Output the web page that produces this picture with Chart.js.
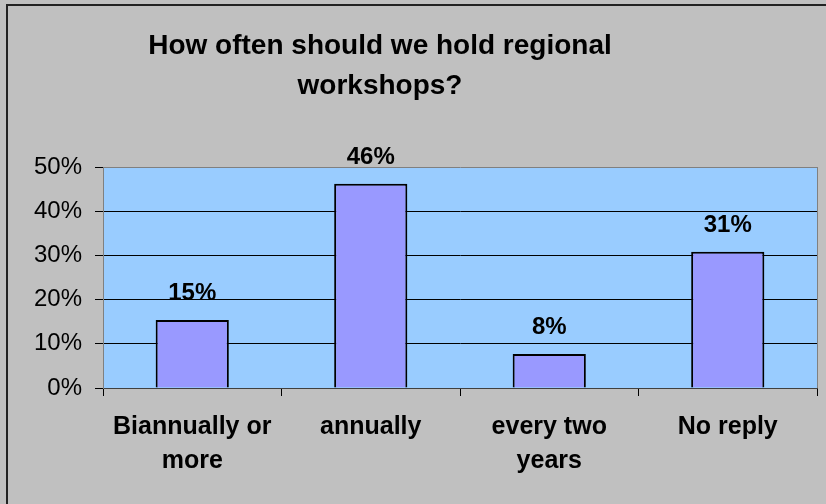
<!DOCTYPE html>
<html>
<head>
<meta charset="utf-8">
<script src="https://cdn.jsdelivr.net/npm/chart.js@4/dist/chart.umd.min.js"></script>
<style>
html,body{margin:0;padding:0;background:#c0c0c0;overflow:hidden;}
#wrap{width:826px;height:504px;}
</style>
</head>
<body>
<div id="wrap"><canvas id="c" width="826" height="504"></canvas></div>
<script>
const titleLines = ['How often should we hold regional', 'workshops?'];
const categories = [['Biannually or', 'more'], ['annually'], ['every two', 'years'], ['No reply']];
const values = [15.4, 46.2, 7.7, 30.8];
const yTicks = [0, 10, 20, 30, 40, 50];

const FONT = '"Liberation Sans", Arial, sans-serif';

const bgPlugin = {
  id: 'bg',
  beforeDraw(chart) {
    const ctx = chart.ctx, a = chart.chartArea;
    ctx.save();
    ctx.fillStyle = '#c0c0c0';
    ctx.fillRect(0, 0, chart.width, chart.height);
    ctx.strokeStyle = '#222';
    ctx.lineWidth = 2;
    ctx.beginPath();
    ctx.moveTo(7, chart.height);
    ctx.lineTo(7, 5);
    ctx.lineTo(chart.width, 5);
    ctx.stroke();
    ctx.fillStyle = '#99ccff';
    ctx.fillRect(a.left, a.top, a.right - a.left, a.bottom - a.top);
    ctx.restore();
  },
  afterLayout(chart) {
    if (chart.titleBlock) { chart.titleBlock.left = 0; chart.titleBlock.right = 760; }
  },
  afterDatasetsDraw(chart) {
    const ctx = chart.ctx, a = chart.chartArea;
    ctx.save();
    ctx.strokeStyle = '#808080';
    ctx.lineWidth = 1;
    ctx.beginPath();
    ctx.moveTo(a.right + 0.5, a.top);
    ctx.lineTo(a.right + 0.5, a.bottom);
    ctx.stroke();
    const meta = chart.getDatasetMeta(0);
    ctx.fillStyle = '#000';
    ctx.font = 'bold 24px ' + FONT;
    ctx.textAlign = 'center';
    ctx.textBaseline = 'alphabetic';
    meta.data.forEach((bar, i) => {
      ctx.fillText(Math.round(values[i]) + '%', bar.x, bar.y - 20);
    });
    ctx.restore();
  }
};

new Chart(document.getElementById('c'), {
  type: 'bar',
  data: {
    labels: categories,
    datasets: [{
      data: values,
      backgroundColor: '#9999ff',
      borderColor: '#000',
      borderWidth: 2,
      categoryPercentage: 1,
      barPercentage: 0.41
    }]
  },
  options: {
    responsive: false,
    animation: false,
    layout: { padding: { left: 0, right: 9, top: 0, bottom: 0 } },
    plugins: {
      legend: { display: false },
      tooltip: { enabled: false },
      title: {
        display: true,
        text: titleLines,
        color: '#000',
        font: { family: FONT, size: 28, weight: 'bold', lineHeight: 40 / 28 },
        padding: { top: 26, bottom: 61 }
      }
    },
    scales: {
      x: {
        grid: { display: true, drawOnChartArea: false, drawTicks: true, tickLength: 8, offset: true, color: '#000', tickColor: '#000' },
        border: { display: true, color: '#404040', width: 1 },
        ticks: { color: '#000', padding: 14, font: { family: FONT, size: 25, weight: 'bold', lineHeight: 34 / 25 }, maxRotation: 0, autoSkip: false },
        afterFit(s) { s.height = 116; }
      },
      y: {
        min: 0, max: 50,
        afterBuildTicks(s) { s.ticks = yTicks.map(v => ({ value: v })); },
        grid: {
          color: (c) => (c.tick && c.tick.value === 50) ? '#808080' : '#000',
          tickColor: '#000',
          tickLength: 8,
          lineWidth: 1
        },
        border: { display: true, color: '#808080', width: 1 },
        ticks: { color: '#000', padding: 13, font: { family: FONT, size: 24 }, callback: (v) => v + '%' },
        afterFit(s) { s.width = 103; }
      }
    }
  },
  plugins: [bgPlugin]
});
</script>
</body>
</html>
